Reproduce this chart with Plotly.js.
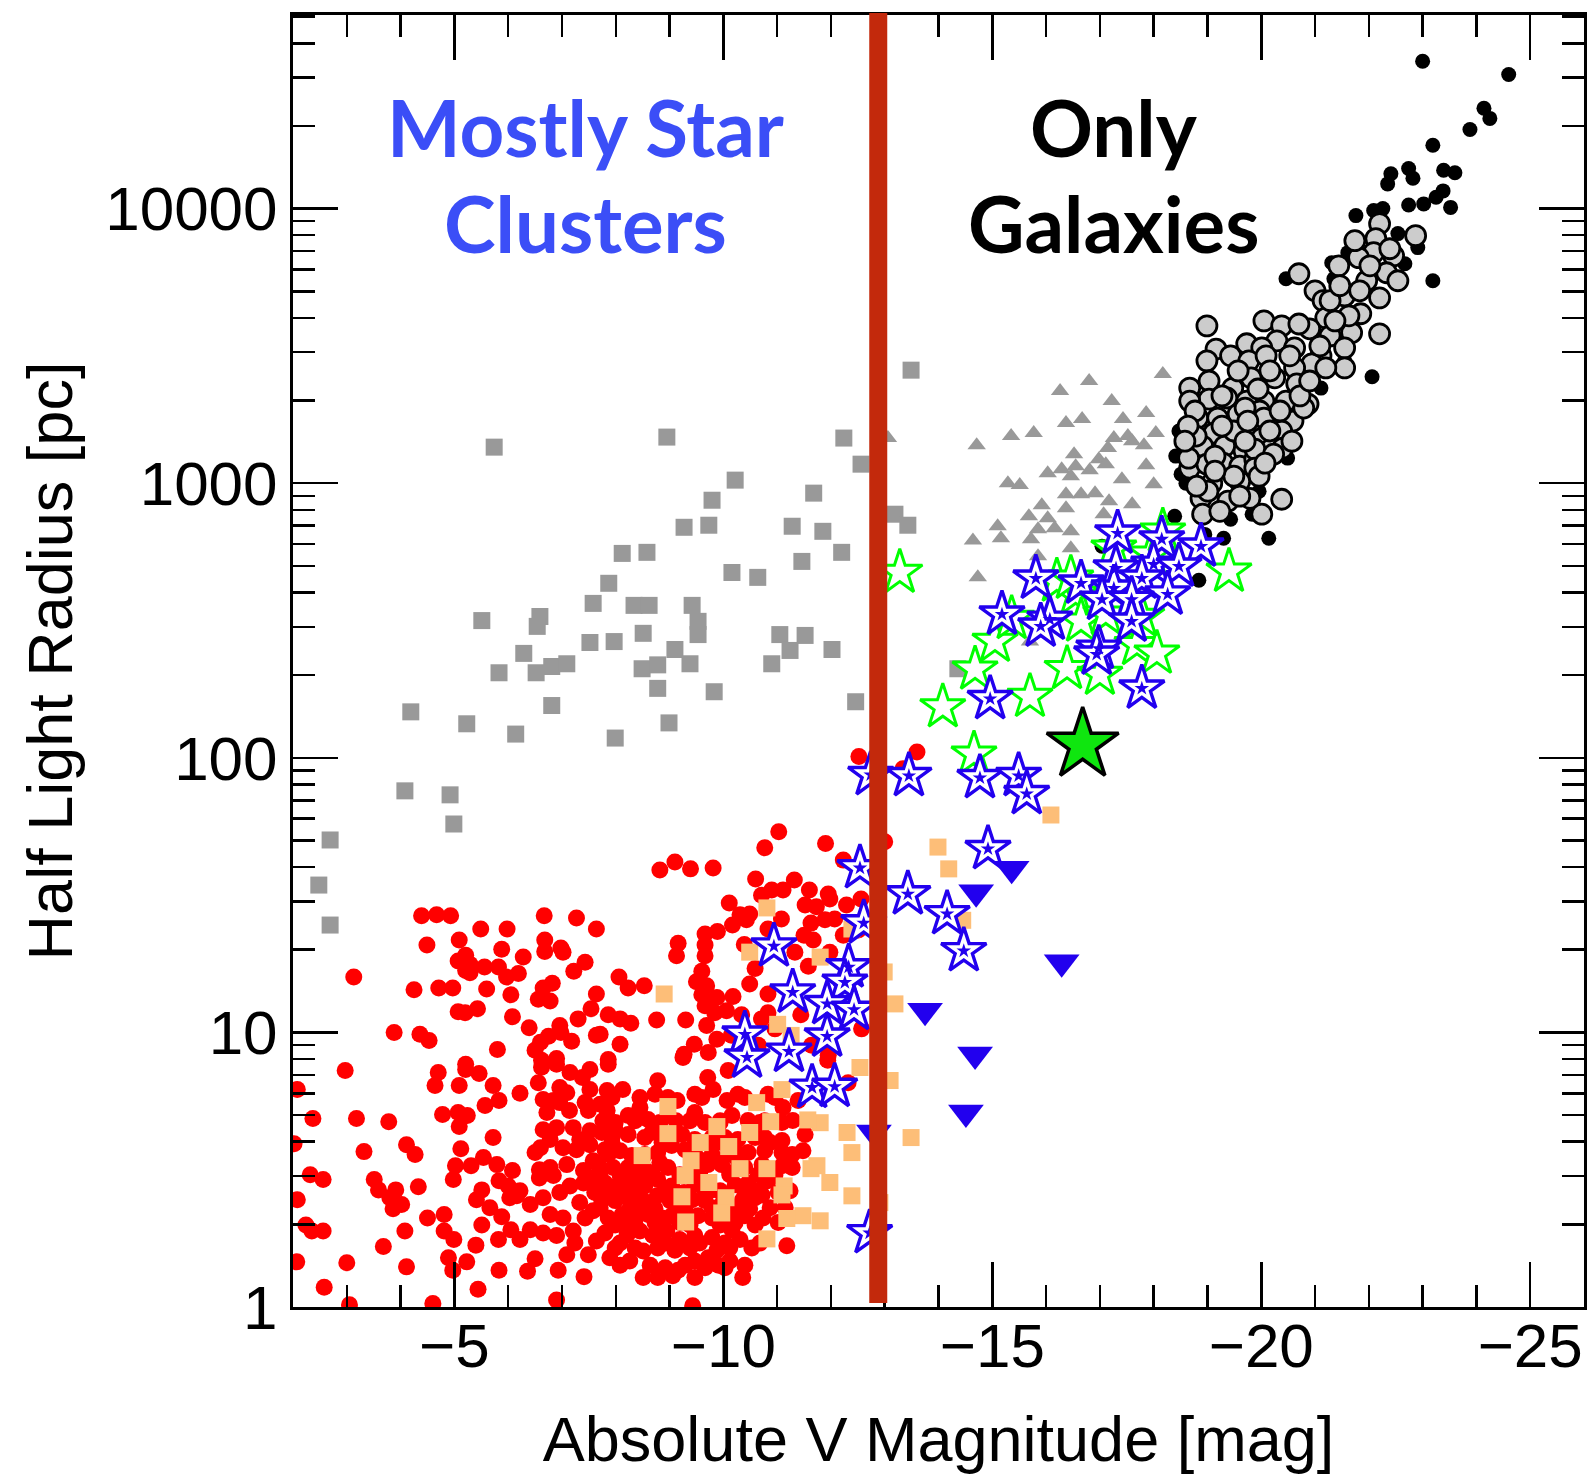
<!DOCTYPE html>
<html>
<head>
<meta charset="utf-8">
<script src="https://cdn.plot.ly/plotly-3.0.1.min.js"></script>
<style>html,body{margin:0;padding:0;background:#fff;}</style>
</head>
<body>
<div id="chart" style="width:1588px;height:1474px;"></div>
<script>
// Size–luminosity plane: each entry is [absolute V magnitude, half-light radius in pc]

const starClusters = [
  [-4.39,26.6],[-4.67,26.8],[-4.93,26.6],[-6.67,26.6],[-7.27,26.1],[-7.64,23.8],[-5.49,23.8],[-5.98,23.8],[-5.09,21.7],[-4.49,20.8],
  [-6.68,21.7],[-6.68,19.7],[-6.98,20.3],[-7.02,19.6],[-5.88,20.1],[-6.28,18.8],[-5.21,19.1],[-5.07,18.2],[-5.29,17.7],[-5.21,16.8],
  [-5.29,16.5],[-5.56,17.3],[-5.82,17.3],[-5.97,15.9],[-6.19,16.4],[-7.43,18.0],[-7.22,16.7],[-3.13,15.9],[-4.25,14.3],[-4.71,14.5],
  [-4.97,14.5],[-5.60,14.4],[-6.05,13.7],[-6.65,14.5],[-6.82,15.1],[-6.56,13.2],[-6.78,13.0],[-7.64,13.8],[-5.07,11.9],[-5.20,11.8],
  [-5.43,12.2],[-7.54,12.2],[-6.08,11.4],[-7.30,11.2],[-6.39,10.4],[-6.96,10.6],[-6.98,10.0],[-6.75,9.68],[-6.60,9.20],[-6.50,8.61],
  [-7.18,9.28],[-7.64,9.76],[-3.88,10.0],[-4.36,9.84],[-4.53,9.35],[-5.80,8.67],[-6.62,7.91],[-6.90,8.04],[-5.21,7.65],
  [-11.03,53.8],[-10.77,47.0],[-11.90,48.7],[-13.00,49.5],[-12.23,42.4],[-9.10,41.7],[-8.82,39.0],[-9.39,39.4],[-9.81,39.7],[-10.60,36.2],
  [-11.32,35.9],[-10.71,31.6],[-10.90,33.0],[-11.11,33.0],[-11.60,33.0],[-11.95,31.9],[-11.98,30.6],[-10.11,29.6],[-11.52,29.1],[-11.73,28.7],
  [-12.29,29.1],[-12.56,30.6],[-10.31,26.8],[-10.49,27.0],[-10.17,24.6],[-10.43,25.7],[-11.08,25.9],[-10.83,23.8],[-11.63,25.0],[-11.89,25.7],
  [-12.07,25.9],[-9.66,22.8],[-9.89,23.3],[-9.66,20.8],[-9.16,21.1],[-9.13,19.0],[-9.66,19.0],[-10.39,20.9],[-11.50,22.6],[-11.67,21.7],
  [-12.23,22.6],[-12.51,23.6],[-11.98,19.6],[-11.33,19.6],[-9.60,16.7],[-10.59,17.1],[-11.58,17.4],[-9.50,15.3],[-9.69,14.8],[-10.49,15.0],
  [-8.06,15.9],[-8.23,14.5],[-8.53,14.8],[-9.60,13.7],[-9.88,13.4],[-10.18,13.5],[-10.83,13.8],[-9.66,12.5],[-9.84,11.8],[-10.06,12.0],
  [-7.86,11.6],[-8.08,11.2],[-8.28,10.8],[-8.76,11.1],[-9.30,11.1],[-9.69,10.6],[-10.34,11.6],[-10.71,11.2],[-10.83,11.8],[-11.44,11.6],
  [-7.71,9.84],[-8.08,9.05],[-9.46,9.05],[-9.88,9.44],[-10.15,9.76],[-9.27,8.32],[-9.72,8.45],[-7.86,7.97],[-10.65,8.97],[-10.96,10.3],
  [-12.57,10.3],[-11.95,8.25],[-11.64,8.97],
  [-2.97,7.27],[-4.70,7.15],[-4.64,6.41],[-5.21,7.33],[-5.46,7.09],[-5.09,6.41],[-5.72,6.41],[-5.57,5.42],[-5.83,5.65],[-6.22,6.00],
  [-2.08,6.20],[-4.78,5.02],[-5.07,5.11],[-5.24,4.98],[-5.09,4.54],[-2.37,4.86],[-3.18,4.86],[-3.78,4.73],[-5.72,4.14],[-2.02,3.93],
  [-4.11,3.90],[-4.27,3.59],[-3.32,3.68],[-5.12,3.77],[-5.54,3.50],[-5.31,3.27],[-5.02,3.27],[-4.98,2.91],[-5.79,3.30],[-6.08,3.14],
  [-5.83,2.88],[-2.32,3.03],[-2.56,2.91],[-3.51,2.91],[-3.59,2.67],[-3.91,2.67],[-3.80,2.50],[-4.02,2.36],[-3.86,2.28],[-4.33,2.74],
  [-2.08,2.46],[-5.51,2.67],[-5.41,2.46],[-5.66,2.30],[-6.00,2.76],[-6.03,2.50],[-6.22,2.65],[-5.88,2.13],[-4.50,2.11],[-4.81,2.17],
  [-4.81,1.89],[-4.99,1.76],[-2.24,1.99],[-2.35,1.89],[-2.56,1.89],[-4.08,1.89],[-5.51,1.99],[-5.40,1.68],[-5.82,1.76],[-6.05,1.91],
  [-6.22,1.76],[-3.68,1.66],[-2.07,1.46],[-3.00,1.45],[-4.11,1.40],[-4.89,1.51],[-4.97,1.36],[-5.23,1.46],[-5.83,1.36],[-6.36,1.35],
  [-6.50,1.50],[-6.93,1.36],[-7.41,1.29],[-7.09,1.55],[-7.49,1.55],[-7.64,1.74],[-7.24,1.71],[-7.21,1.89],[-6.90,1.82],[-2.58,1.18],
  [-3.05,1.02],[-4.60,1.03],[-5.44,1.16],[-6.90,1.06],
  [-6.62,7.46],[-6.90,7.65],[-7.15,7.15],[-7.52,7.33],[-7.38,6.85],[-6.56,6.56],[-6.96,6.30],[-7.09,6.03],[-7.52,6.20],[-6.65,5.70],
  [-6.84,5.65],[-6.72,5.11],[-7.14,5.19],[-7.49,5.19],[-6.65,4.42],[-6.90,4.50],[-7.21,4.50],[-7.52,4.38],[-6.50,3.65],[-6.60,3.80],
  [-7.02,3.80],[-7.27,3.74],[-7.52,3.90],[-6.58,3.16],[-6.78,3.22],[-7.09,3.30],[-7.40,3.14],[-7.58,3.41],[-6.58,2.95],[-6.84,3.01],
  [-7.15,2.76],[-7.40,2.83],[-7.58,2.95],[-6.16,2.54],[-6.41,2.36],[-6.65,2.50],[-6.78,2.17],[-7.02,2.11],[-7.33,2.40],[-7.58,2.24],
  [-6.41,1.91],[-6.65,1.86],
  [-7.86,7.65],[-8.78,6.67],[-9.25,8.11],[-9.71,6.85],[-10.09,7.27],[-11.39,5.65],[-11.94,7.91],[-12.32,6.56],[-8.13,6.20],[-7.84,6.14],
  [-7.71,5.47],[-8.73,5.95],[-9.14,5.65],[-9.47,5.95],[-9.81,6.20],[-10.07,5.65],[-10.27,5.95],[-10.83,5.95],[-11.11,5.33],[-7.84,5.19],
  [-8.23,4.98],[-8.45,5.33],[-8.60,4.82],[-8.97,5.02],[-9.47,5.11],[-9.66,4.70],[-10.16,4.98],[-10.46,4.78],[-11.09,4.70],[-11.52,4.25],
  [-11.48,3.71],[-11.29,4.78],[-7.74,4.32],[-7.99,4.42],[-8.23,4.25],[-8.54,4.14],[-8.67,4.32],[-9.23,4.25],[-9.47,4.07],[-10.27,4.07],
  [-10.59,4.14],[-11.09,4.04],[-7.80,3.74],[-8.08,3.71],[-8.30,3.56],[-8.78,3.65],[-9.04,3.87],[-9.29,3.74],[-9.79,3.59],[-10.09,3.59],
  [-10.46,3.65],[-10.77,3.71],[-11.09,3.65],[-7.67,3.30],[-7.95,3.22],[-8.23,3.22],[-8.54,3.16],[-8.82,3.36],[-8.97,3.22],[-9.42,3.22],
  [-9.71,3.30],[-9.97,3.30],[-10.40,3.22],[-10.72,3.30],[-11.09,3.27],[-11.28,3.22],[-7.80,2.83],[-8.04,2.79],[-8.30,2.88],[-8.54,2.76],
  [-8.78,2.91],[-9.04,2.76],[-9.47,2.79],[-9.79,2.67],[-10.22,2.79],[-10.46,2.83],[-10.83,2.88],[-7.74,2.44],[-7.99,2.44],[-8.23,2.50],
  [-8.51,2.44],[-8.77,2.54],[-9.01,2.44],[-9.42,2.46],[-9.66,2.44],[-9.97,2.36],[-10.35,2.44],[-10.59,2.50],[-10.72,2.56],[-11.15,2.30],
  [-7.86,2.11],[-8.12,2.17],[-8.36,2.08],[-8.60,2.17],[-8.86,2.11],[-9.04,2.15],[-9.53,2.15],[-9.79,2.11],[-10.07,2.06],[-10.40,2.15],
  [-10.74,2.11],[-7.80,1.86],[-8.21,1.83],[-8.45,1.89],[-8.69,1.82],[-8.95,1.89],[-9.19,1.76],[-9.47,1.82],[-9.79,1.79],[-10.16,1.91],
  [-10.31,1.76],[-11.18,1.67],[-7.89,1.51],[-8.26,1.47],[-8.51,1.60],[-8.78,1.64],[-9.10,1.61],[-9.47,1.47],[-9.72,1.51],[-10.12,1.47],
  [-9.88,1.61],[-8.51,1.28],[-8.78,1.28],[-9.06,1.30],[-9.47,1.28],[-9.16,1.36],[-10.36,1.28],[-9.43,1.01],
  [-12.52,101],[-13.60,105],[-13.34,91.3],
  [-7.99,4.70],[-8.82,4.70],[-9.94,4.70],[-10.68,4.70],
  [-7.93,3.97],[-8.86,3.97],[-9.71,3.97],[-9.97,3.97],[-10.87,3.97],
  [-8.45,3.44],[-9.56,3.44],[-10.27,3.44],
  [-8.08,3.03],[-9.19,3.03],[-9.56,3.03],[-10.12,3.03],[-10.65,3.03],[-10.96,3.03],
  [-7.89,2.61],[-8.38,2.61],[-9.27,2.61],[-9.97,2.61],[-10.40,2.61],[-11.02,2.61],
  [-8.26,2.28],[-8.73,2.28],[-9.19,2.28],[-9.84,2.28],[-10.22,2.28],[-10.49,2.28],
  [-7.99,1.99],[-8.82,1.99],[-9.38,1.99],[-9.94,1.99],[-10.59,1.99],
  [-8.08,1.71],[-8.92,1.71],[-9.56,1.71],[-10.03,1.71],[-10.68,1.71],
  [-8.08,1.42],[-8.64,1.42],[-9.29,1.42],[-9.91,1.42],[-10.40,1.42],
  [-7.93,5.79],[-8.45,5.79],[-8.97,5.79],[-9.60,5.79],[-10.40,5.79],[-10.96,5.79],
  [-7.76,4.77],[-8.36,4.77],[-9.12,4.77],[-9.38,4.77],[-9.94,4.77],[-10.77,4.77],
  [-7.93,4.14],[-8.86,4.14],[-9.79,4.14],[-10.03,4.14],[-10.77,4.14],
  [-7.86,3.59],[-8.54,3.59],[-9.47,3.59],[-10.31,3.59],[-11.28,3.59],
  [-7.71,3.08],[-8.40,3.08],[-8.68,3.08],[-9.56,3.08],[-10.12,3.08],[-10.87,3.08],
  [-8.17,2.65],[-8.92,2.65],[-9.66,2.65],[-9.94,2.65],[-10.64,2.65],[-11.24,2.65],
  [-7.71,2.30],[-8.45,2.30],[-9.29,2.30],[-9.79,2.30],[-10.87,2.30],
  [-8.23,2.03],[-8.73,2.03],[-9.19,2.03],[-10.22,2.03],[-11.02,2.03],
  [-7.99,1.64],[-8.36,1.64],[-9.38,1.64],[-10.12,1.64],[-10.53,1.64],
  [-8.92,1.39],[-9.66,1.39],[-10.03,1.39],
  [-6.96,5.55],[-7.43,5.55],[-6.78,4.07],[-7.33,4.07],[-6.96,2.61],[-7.61,2.61],[-7.43,2.11]
];

const youngClusters = [
  [-16.09,61.9],[-13.99,47.3],[-14.19,39.4],[-14.45,25.6],[-12.99,16.6],[-13.19,12.7],[-13.10,6.68],[-13.49,4.14],[-12.39,2.54],[-11.80,2.06],
  [-12.30,4.32],[-12.39,3.65],[-11.80,4.69],[-11.74,3.27],[-11.98,2.84],[-11.80,18.8],[-12.39,23.8],[-12.91,2.40],[-11.48,2.15],[-10.81,28.4],
  [-10.49,19.6],[-8.90,13.8],[-11.01,10.7],[-11.26,9.75],[-12.54,7.45],[-11.09,6.19],[-8.97,5.37],[-9.88,4.54],[-10.88,4.73],[-8.97,4.28],
  [-10.10,3.84],[-10.81,3.19],[-11.63,3.19],[-11.13,2.76],[-8.49,3.56],[-9.40,3.41],[-10.31,3.19],[-9.73,2.84],[-10.05,2.50],[-11.09,2.56],
  [-9.23,2.52],[-11.18,2.10],[-9.97,2.20],[-9.30,2.04],[-10.81,1.77],[-10.62,5.55],[-9.57,3.97],[-10.49,4.32],[-9.29,3.01],[-11.57,4.80]
];

const diffuseDwarfs = [
  [-13.49,2580],[-5.74,1353],[-8.95,1472],[-12.24,1460],[-12.56,1173],[-10.22,1026],[-11.68,920],[-9.79,867],[-13.19,771],[-13.43,703],
  [-9.27,691],[-9.73,703],[-11.28,697],[-11.85,668],[-12.20,560],[-8.12,555],[-8.58,560],[-11.46,519],[-10.16,473],[-10.64,454],
  [-7.87,432],[-7.58,365],[-8.34,359],[-8.62,359],[-9.42,359],[-5.51,316],[-6.59,327],[-6.54,301],[-9.53,314],[-9.53,281],
  [-8.51,284],[-7.52,263],[-7.97,265],[-9.10,248],[-11.05,281],[-11.52,279],[-11.24,246],[-12.02,248],[-6.29,240],[-6.81,215],
  [-7.09,220],[-5.83,204],[-6.52,204],[-8.49,211],[-8.78,218],[-9.38,220],[-10.90,220],[-8.78,179],[-9.83,174],[-12.46,160],
  [-4.19,147],[-6.81,155],[-5.23,133],[-6.14,122],[-7.99,118],[-8.99,134],[-4.08,75.8],[-4.92,73.3],[-4.99,57.4],[-2.69,50.2],
  [-2.48,34.4],[-2.69,24.6],[-14.36,211]
];

const dwarfEllipticals = [
  [-18.17,2500],[-16.80,2356],[-16.26,2168],[-17.22,1991],[-17.86,1800],[-17.43,1713],[-16.37,1656],[-16.67,1713],[-15.35,1485],[-15.77,1522],
  [-18.04,1522],[-13.06,1460],[-17.26,1460],[-17.52,1485],[-17.60,1423],[-14.71,1376],[-17.82,1376],[-17.15,1342],[-16.52,1276],[-16.98,1223],
  [-17.86,1163],[-16.03,1087],[-16.29,1125],[-16.55,1153],[-16.81,1115],[-17.11,1173],[-16.46,1061],[-15.29,1000],[-15.51,984],[-17.41,1034],
  [-18.00,991],[-16.37,912],[-16.65,912],[-16.91,920],[-17.17,860],[-15.92,831],[-16.37,811],[-17.60,838],[-15.68,758],[-16.03,745],
  [-17.07,771],[-15.10,697],[-15.85,679],[-16.16,685],[-16.46,668],[-14.64,619],[-15.16,630],[-15.72,625],[-16.46,579],[-15.85,542],
  [-14.73,454],[-15.70,265]
];

const giantEllipticals = [
  [-23.00,34400],[-24.60,30800],[-24.14,23200],[-24.25,21300],[-23.88,19400],[-23.19,17000],[-22.41,13400],[-22.35,12300],[-22.74,14000],[-22.82,12900],
  [-23.39,13800],[-23.60,13500],[-23.38,11600],[-23.25,11000],[-23.52,10100],[-23.02,10400],[-22.74,10300],[-22.26,10000],[-21.76,9430],[-22.09,9840],
  [-22.54,8110],[-22.91,7210],[-21.31,6350],[-21.61,6910],[-20.46,5550],[-21.35,5550],[-22.67,6300],[-23.19,5460],[-22.06,2440],[-21.55,2790],
  [-21.11,2220],[-18.47,1549],[-18.41,1255],[-18.51,1079],[-18.60,1000],[-19.30,838],[-19.43,739],[-18.39,758],[-19.83,771],[-20.14,630],
  [-19.30,630],[-18.95,651],[-17.04,589],[-18.84,443],[-20.49,1234],[-20.49,1423],[-19.96,935]
];

const ellipticals = [
  [-22.20,8810],[-22.87,7970],[-22.13,7780],[-22.09,6910],[-22.46,6730],[-21.81,6630],[-21.44,6190],[-22.33,5840],[-21.96,5460],[-22.54,5460],
  [-20.70,5790],[-22.20,4730],[-21.55,4810],[-21.00,5020],[-21.15,4620],[-21.85,4140],[-21.20,4000],[-21.68,3530],[-21.28,3440],[-20.90,3650],
  [-22.20,3500],[-18.99,3740],[-20.05,3900],[-20.38,3740],[-20.70,3800],[-21.55,3110],[-21.11,2910],[-20.29,3300],[-19.73,3220],[-20.01,3110],
  [-20.62,3110],[-20.94,2720],[-21.55,2630],[-19.16,3080],[-19.43,2910],[-18.99,2790],[-19.77,2790],[-20.09,2910],[-20.62,2630],[-21.20,2630],
  [-18.67,2220],[-19.03,2356],[-19.47,2220],[-19.81,2420],[-20.25,2420],[-20.66,2300],[-20.87,1942],[-20.46,1991],[-20.05,1991],[-19.73,1991],
  [-19.36,2043],[-19.03,2025],[-18.67,1991],[-18.82,1727],[-19.19,1727],[-19.57,1786],[-19.97,1832],[-20.25,1713],[-20.59,1684],[-19.12,1522],
  [-19.43,1460],[-19.81,1549],[-20.01,1460],[-20.38,1549],[-18.91,1365],[-19.32,1365],[-19.68,1309],[-20.18,1331],[-18.67,1135],[-18.99,1173],
  [-19.29,1183],[-19.60,1153],[-19.88,1223],[-19.08,1000],[-19.60,1016],[-20.38,874],[-21.63,4070],[-20.79,1878],[-19.70,1878],[-20.05,1727],
  [-19.49,1549],[-20.40,1342],[-18.65,1234],[-19.88,1331],[-20.23,1276],[-19.88,1135],[-19.96,1061],[-18.88,881],[-19.79,881],[-18.91,771],
  [-20.01,771],
  [-18.77,1832],[-19.27,1615],[-19.75,1684],[-20.16,1549],[-18.79,1485],[-19.14,1255],[-19.70,1423],[-20.07,1183],[-20.57,1423],[-19.01,935],
  [-19.38,860],[-19.60,897],[-18.64,1615],[-20.72,2080],[-21.09,3160],[-21.37,3900],[-20.53,2910],[-20.16,2565],[-19.57,2565],[-19.27,2080],
  [-19.94,2203],[-20.35,1832],[-19.49,1061],[-19.14,1107],[-18.80,975],[-19.23,790],[-18.58,1423],[-20.90,2356],[-21.28,4620],[-21.83,5020],
  [-22.02,6190],[-21.74,7640],[-22.39,7140],[-21.46,5240]
];

const compactEllipticals = [
  [-13.28,473],[-19.40,477],[-15.05,265],[-14.68,210],[-14.08,153],[-15.70,167],[-16.39,211],[-17.00,201],[-17.69,258],[-18.06,240],
  [-14.66,103],[-16.55,394],[-16.65,314],[-17.11,333],[-17.78,327],[-16.20,439],[-17.26,579],[-17.95,551],[-15.36,321],[-18.17,668],
  [-16.46,450]
];

const compactSystems = [
  [-12.74,86.7],[-13.45,86.0],[-14.77,84.5],[-15.49,86.0],[-15.64,73.9],[-12.54,39.7],[-13.43,31.9],[-14.16,27.0],[-14.47,19.8],[-14.92,46.6],
  [-12.61,25.0],[-10.94,20.6],[-12.33,17.3],[-12.26,15.2],[-11.29,14.0],[-11.93,12.7],[-12.43,12.1],[-10.40,9.84],[-10.44,8.11],[-11.22,8.52],
  [-11.93,9.67],[-11.65,6.30],[-12.07,6.35],[-12.72,1.86],
  [-17.33,657],[-18.15,625],[-18.88,589],[-17.30,490],[-18.00,506],[-18.47,498],[-15.81,450],[-16.65,432],[-17.26,414],[-17.78,450],
  [-18.26,394],[-17.04,377],[-17.59,377],[-15.18,333],[-16.07,319],[-15.90,301],[-17.59,314],[-16.98,250],[-16.94,238],[-14.96,164],
  [-17.78,179]
];

const nuclearClusters = [
  [-15.36,39.4],[-14.70,32.4],[-16.29,18.0],[-13.75,12.0],[-14.68,8.31],[-14.51,5.11],[-12.80,4.32]
];

const highlightedObject = [[-16.68,111.5]];

// Luminosity above which only galaxies are found
const dividingMagnitude = -12.88;

const magTicks = [-5, -10, -15, -20, -25];
const radiusTicks = [1, 10, 100, 1000, 10000];
const radiusTickText = ['1', '10', '100', '1000', '10000'];

const mags = list => list.map(p => p[0]);
const radii = list => list.map(p => p[1]);

function markers(list, marker) {
  return {
    type: 'scatter', mode: 'markers',
    x: mags(list), y: radii(list),
    marker: marker, hoverinfo: 'skip', showlegend: false
  };
}

const BLUE = '#2200ee';

const traces = [
  markers(dwarfEllipticals, {symbol: 'triangle-up', size: 16, color: '#999999'}),
  markers(diffuseDwarfs, {symbol: 'square', size: 17, color: '#999999'}),
  markers(starClusters, {symbol: 'circle', size: 17, color: '#ff0000'}),
  markers(youngClusters, {symbol: 'square', size: 17, color: '#fdbe78'}),
  markers(giantEllipticals, {symbol: 'circle', size: 15, color: '#000000'}),
  markers(ellipticals, {symbol: 'circle', size: 20, color: '#cccccc', line: {color: '#000000', width: 2.8}}),
  markers(compactEllipticals, {symbol: 'star', size: 34, color: '#ffffff', line: {color: '#00ff00', width: 3}}),
  markers(compactSystems, {symbol: 'star', size: 34, color: '#ffffff', line: {color: BLUE, width: 3.4}}),
  markers(compactSystems, {symbol: 'star', size: 11, color: BLUE, line: {width: 0}}),
  markers(nuclearClusters, {symbol: 'triangle-down', size: 31, color: BLUE, line: {width: 0}}),
  markers(highlightedObject, {symbol: 'star', size: 54, color: '#0fe60f', line: {color: '#000000', width: 3.5}})
];

const axisFont = {family: 'Liberation Sans, Arial, Helvetica, sans-serif', size: 62, color: '#000000'};
const labelFont = {family: 'Lato, Gill Sans, sans-serif', size: 78};

const layout = {
  width: 1588, height: 1474,
  margin: {l: 293, r: 4, t: 15, b: 167},
  paper_bgcolor: '#ffffff', plot_bgcolor: '#ffffff',
  showlegend: false,
  xaxis: {
    range: [-2, -26],
    tickmode: 'array', tickvals: magTicks,
    ticks: 'inside', ticklen: 45, tickwidth: 2.5, tickcolor: '#000000',
    ticklabelstandoff: -17,
    minor: {tickmode: 'linear', tick0: 0, dtick: 1, ticks: 'inside', ticklen: 22, tickwidth: 2.5, tickcolor: '#000000', showgrid: false},
    showline: true, linewidth: 3, linecolor: '#000000', mirror: 'allticks',
    showgrid: false, zeroline: false,
    tickfont: axisFont,
    title: {text: 'Absolute V Magnitude [mag]', font: {family: axisFont.family, size: 63, color: '#000000'}, standoff: 47}
  },
  yaxis: {
    type: 'log',
    range: [0, 4.705],
    tickmode: 'array', tickvals: radiusTicks, ticktext: radiusTickText,
    ticks: 'inside', ticklen: 45, tickwidth: 2.5, tickcolor: '#000000',
    minor: {dtick: 'D1', ticks: 'inside', ticklen: 22, tickwidth: 2.5, tickcolor: '#000000', showgrid: false},
    showline: true, linewidth: 3, linecolor: '#000000', mirror: 'allticks',
    showgrid: false, zeroline: false,
    tickfont: axisFont,
    title: {text: 'Half Light Radius [pc]', font: {family: axisFont.family, size: 63, color: '#000000'}, standoff: 13}
  },
  shapes: [{
    type: 'line', layer: 'above',
    xref: 'x', yref: 'paper',
    x0: dividingMagnitude, x1: dividingMagnitude, y0: 0.003, y1: 1.0015,
    line: {color: '#c3290c', width: 18}
  }],
  annotations: [
    {xref: 'x', yref: 'paper', x: -7.43, y: 0.9133, text: '<b>Mostly Star</b>', showarrow: false,
     xanchor: 'center', yanchor: 'middle', font: Object.assign({color: '#3b4ef7'}, labelFont)},
    {xref: 'x', yref: 'paper', x: -7.43, y: 0.839, text: '<b>Clusters</b>', showarrow: false,
     xanchor: 'center', yanchor: 'middle', font: Object.assign({color: '#3b4ef7'}, labelFont)},
    {xref: 'x', yref: 'paper', x: -17.27, y: 0.9133, text: '<b>Only</b>', showarrow: false,
     xanchor: 'center', yanchor: 'middle', font: Object.assign({color: '#000000'}, labelFont)},
    {xref: 'x', yref: 'paper', x: -17.27, y: 0.839, text: '<b>Galaxies</b>', showarrow: false,
     xanchor: 'center', yanchor: 'middle', font: Object.assign({color: '#000000'}, labelFont)}
  ]
};

Plotly.newPlot('chart', traces, layout, {displayModeBar: false, staticPlot: true});
</script>
</body>
</html>
